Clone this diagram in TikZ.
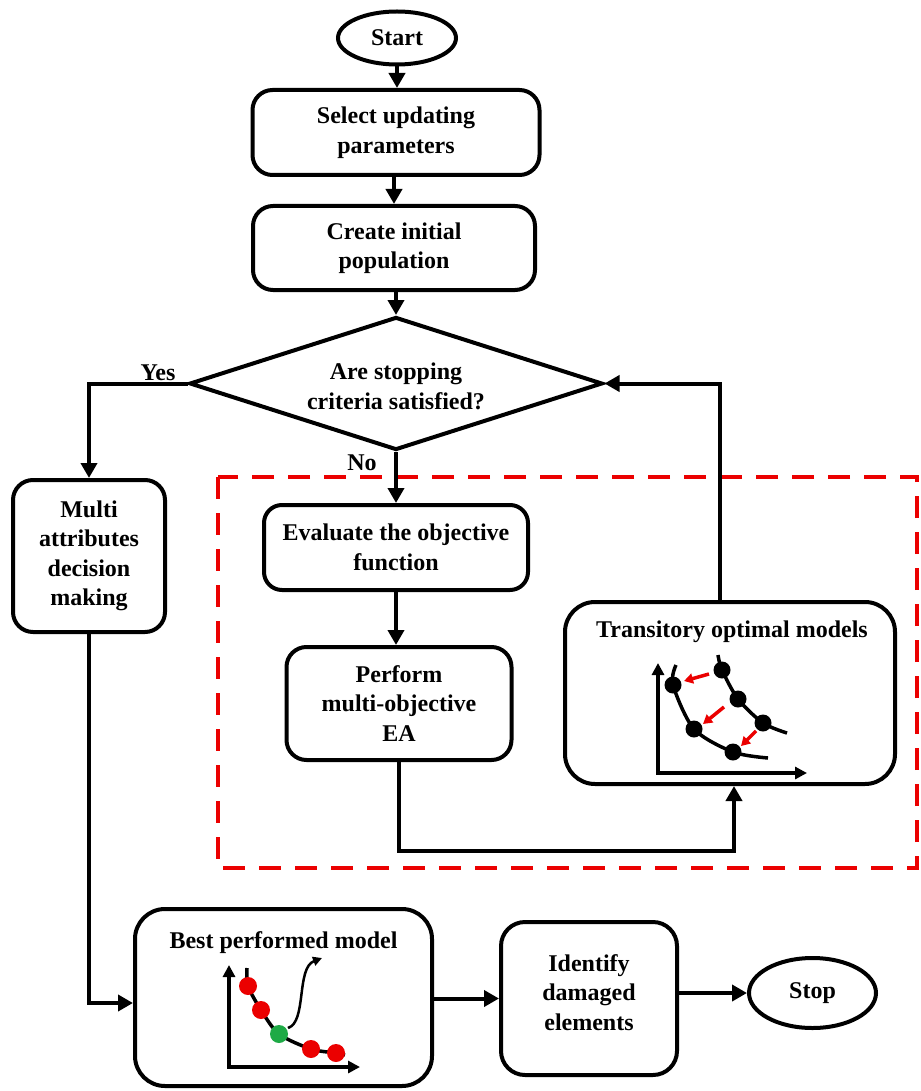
\documentclass[tikz,border=0pt]{standalone}
\usepackage{fontspec}
\setmainfont{Liberation Serif}
\usetikzlibrary{shapes.geometric,arrows.meta}
\definecolor{dred}{RGB}{235,0,0}
\definecolor{dgreen}{RGB}{30,170,70}
\begin{document}
\begin{tikzpicture}[x=1pt,y=-1pt,
  txt/.style={font=\fontsize{24}{29.5}\selectfont\bfseries, align=center, inner sep=0pt},
  box/.style={draw, line width=4pt, rectangle, rounded corners=#1, inner sep=0pt, align=center, font=\fontsize{24}{29.5}\selectfont\bfseries},
  box/.default=20pt,
  term/.style={draw, line width=4pt, ellipse, inner sep=0pt, font=\fontsize{24}{29.5}\selectfont\bfseries},
  arr/.style={line width=4pt, -{Triangle[length=15pt,width=16pt]}},
  axis/.style={line width=3.5pt, line join=miter, {Triangle[length=12pt,width=12pt]}-{Triangle[length=12pt,width=12pt]}},
  curve/.style={line width=3.5pt},
  redarr/.style={dred, line width=3.5pt, -{Triangle[length=9pt,width=10pt]}},
  reddash/.style={dred, line width=4.5pt, dash pattern=on 22pt off 14pt}
]
\useasboundingbox (0,0) rectangle (920,1091);

% main column
\node[term, minimum width=118pt, minimum height=53pt] (start) at (397,38) {Start};
\node[box, minimum width=287pt, minimum height=85pt] (sel) at (396,132.5) {Select updating\\parameters};
\node[box, minimum width=282pt, minimum height=84pt] (cre) at (394,248) {Create initial\\population};
\node[draw, diamond, line width=4pt, minimum width=413pt, minimum height=133pt, inner sep=0pt] (dia) at (396,383.5) {};
\node[txt] (diatxt) at (396,386.5) {Are stopping\\criteria satisfied?};
\node[txt] (yes) at (158,373) {Yes};
\node[txt] (no) at (362,463) {No};

% left branch
\node[box, minimum width=152pt, minimum height=152pt] (multi) at (89,556) {Multi\\attributes\\decision\\making};

% dashed region
\draw[reddash] (218,477) rectangle (917,868);
\node[box, rounded corners=18pt, minimum width=264pt, minimum height=85pt] (eval) at (396,547.5) {Evaluate the objective\\function};
\node[box, minimum width=225pt, minimum height=113pt] (perf) at (399,703.5) {Perform\\multi-objective\\EA};
\node[box=30pt, minimum width=330pt, minimum height=182pt] (trans) at (730,693) {};
\node[txt] (transtxt) at (732,632) {Transitory optimal models};

% bottom row
\node[box=30pt, minimum width=297pt, minimum height=177pt] (best) at (283.5,997.5) {};
\node[txt] (besttxt) at (283.5,943) {Best performed model};
\node[box=24pt, minimum width=176pt, minimum height=153pt] (ident) at (589,998.5) {};
\node[txt] (identtxt) at (589,992.5) {Identify\\damaged\\elements};
\node[term, minimum width=127pt, minimum height=70pt] (stop) at (812.5,993) {Stop};

% connectors
\draw[arr] (start.south) -- (start.south |- sel.north);
\draw[arr] (sel.south -| cre.north) -- (cre.north);
\draw[arr] (cre.south -| dia.north) -- (dia.north);
\draw[arr] (dia.west) -| (multi.north);
\draw[arr] (dia.south) -- (dia.south |- eval.north);
\draw[arr] (dia.south |- eval.south) -- (dia.south |- perf.north);
\coordinate (lb) at (734,851);
\draw[arr] (perf.south) |- (lb) -- (lb |- trans.south);
\draw[arr] ([xshift=-10pt]trans.north) |- (dia.east);
\coordinate (mb) at (89,1003);
\draw[arr] (multi.south) -- (mb) -- (mb -| best.west);
\draw[arr] (best.east |- ident.west) -- (ident.west);
\draw[arr] (ident.east |- stop.west) -- (stop.west);

% transitory chart
\draw[axis] (658,663) -- (658,773) -- (807,773);
\draw[curve] plot[smooth] coordinates {(676,665) (673,685) (694,729) (733,752) (768,758)};
\draw[curve] plot[smooth] coordinates {(718,655) (722,670) (738,699) (763,723) (787,733)};
\foreach \p in {(673,685),(694,729),(733,752),(722,670),(738,699),(763,723)}
  \fill \p circle (8.5pt);
\draw[redarr] (709,674) -- (684,681);
\draw[redarr] (724,707) -- (703,724);
\draw[redarr] (756,731) -- (741,746);

% best chart
\draw[axis] (229,965) -- (229,1067) -- (360,1067);
\draw[curve] plot[smooth] coordinates {(247,968) (248,986) (261,1010) (279,1034) (311,1049) (336,1053) (345,1055)};
\foreach \p in {(248,986),(261,1010),(311,1049),(336,1053)}
  \fill[dred] \p circle (9pt);
\fill[dgreen] (279,1034) circle (9pt);
\draw[line width=2.5pt, -{Triangle[length=9pt,width=9pt]}] (288,1028) .. controls (307,1022) and (296,968) .. (322,958);
\end{tikzpicture}
\end{document}
